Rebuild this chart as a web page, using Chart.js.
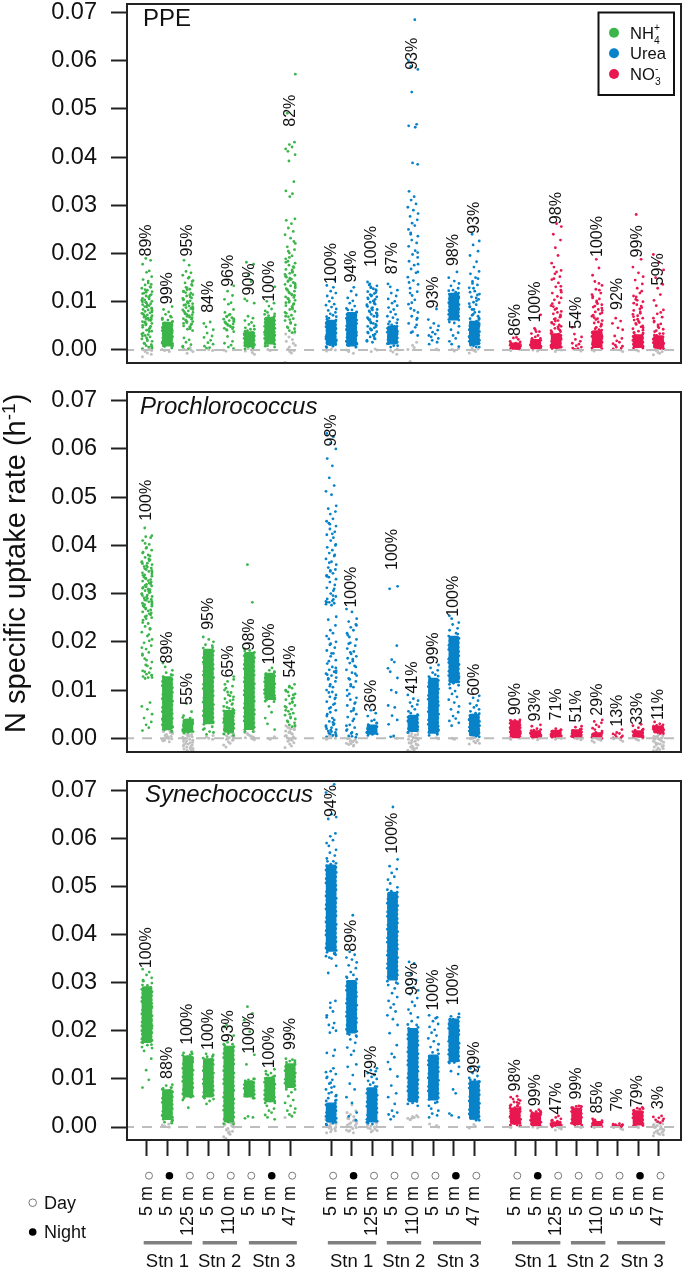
<!DOCTYPE html>
<html><head><meta charset="utf-8">
<script src="https://cdn.jsdelivr.net/npm/chart.js@4"></script>
<style>html,body{margin:0;padding:0;background:#fff;overflow:hidden}canvas{position:absolute;left:0}</style>
</head><body>
<div style="position:absolute;left:0;top:0;width:685px;height:380px"><canvas id="c1"></canvas></div>
<div style="position:absolute;left:0;top:385px;width:685px;height:380px"><canvas id="c2"></canvas></div>
<div style="position:absolute;left:0;top:770px;width:685px;height:500px"><canvas id="c3"></canvas></div>
<script>
// All rates below are in units of 1e-4 per hour.
const depths=["5 m","5 m","125 m","5 m","110 m","5 m","5 m","47 m"];
const isNight=[0,1,0,0,0,0,1,0];
const stations=["Stn 1","Stn 2","Stn 3"];
const yTicks=[0,0.01,0.02,0.03,0.04,0.05,0.06,0.07];

const ppePct=[["89%","99%","95%","84%","96%","90%","100%","82%"],["100%","94%","100%","87%","93%","93%","98%","93%"],["86%","100%","98%","54%","100%","92%","99%","59%"]];
const proPct=[["100%","89%","55%","95%","65%","98%","100%","54%"],["98%","100%","36%","100%","41%","99%","100%","60%"],["90%","93%","71%","51%","29%","13%","33%","11%"]];
const synPct=[["100%","88%","100%","100%","93%","100%","100%","99%"],["94%","89%","79%","100%","99%","100%","100%","99%"],["98%","99%","47%","99%","85%","7%","79%","3%"]];
const ppePctAt=[[194,95,194,77,131,113,100,463],[137,140,172,157,581,86,174,241],[29,57,261,44,193,83,192,134]];
const proPctAt=[[451,155,69,225,126,182,153,126],[605,271,55,349,93,153,252,88],[48,35,37,33,47,24,28,38]];
const synPctAt=[[330,100,171,160,176,152,122,160],[644,364,102,568,274,242,253,111],[74,43,26,57,28,32,41,37]];

const ppeNH4=[
[3,6,9,11,14,18,21,23,27,30,32,35,39,41,44,47,49,52,55,57,59,62,64,67,68,71,73,76,77,80,83,84,87,89,92,94,96,99,101,104,107,109,112,115,118,121,124,128,131,135,139,146,152,161,164,178,186,190],
[4,7,9,12,14,16,19,21,23,26,28,30,33,35,37,40,42,45,47,50,53,56,59,62,66,70,74,79,84,90],
[2,6,11,16,21,25,40,43,47,50,54,57,59,62,65,68,70,73,75,78,81,83,86,88,91,93,96,99,102,105,108,112,115,119,122,126,129,134,139,144,149,155,160,163,176,186],
[4,5,8,12,15,20,26,29,35,42,48,55,58],
[3,6,10,14,18,28,38,42,45,48,51,54,56,59,61,64,67,70,74,78,84,95,98,105,113,122,133],
[2,4,7,10,13,15,18,20,23,26,29,31,34,37,40,43,46,50,53,57,61,66,70,97,102,106,142,155,178,182],
[6,9,13,17,20,24,27,31,34,37,41,44,47,50,53,56,60,64,67,71,75,78,81,85,91,97,101,131],
[36,40,44,48,52,57,61,65,69,72,76,80,84,88,92,96,99,103,107,110,114,118,122,125,129,133,136,140,144,147,151,155,159,163,167,171,176,180,184,189,195,201,208,214,221,232,239,246,253,262,269,272,318,324,330,349,392,405,412,417,421,426,431,491,572]];
const ppeUrea=[
[5,8,11,14,17,21,24,27,31,34,38,41,44,47,50,53,56,59,62,66,69,72,75,78,82,85,89,93,95,101,108,112,118,122,130,134,145],
[6,9,12,15,18,22,25,28,32,35,38,42,45,48,52,55,58,62,65,68,72,76,79,83,86,91,97,102,108,114,122,130],
[16,20,23,27,31,35,38,42,46,49,53,56,60,63,67,70,74,77,81,84,88,92,95,99,102,106,110,113,117,121,125,129,133,137,141],
[6,9,13,16,20,24,27,31,34,38,41,45,49,52,56,59,63,67,70,74,79,84,88,92,97,101,106,112,118,124,131,137],
[30,38,47,55,63,70,78,86,95,104,113,121,128,136,144,151,160,168,176,184,192,198,206,215,222,228,236,243,250,258,263,270,277,283,290,296,303,311,318,329,385,388,462,465,468,535,582,588,600,685],
[12,16,20,24,27,30,33,37,41,46,50,55,63,85],
[7,12,18,24,30,36,42,49,56,63,68,72,76,80,84,88,92,96,100,104,108,112,116,120,124,128,133,138,143,150,162],
[6,9,13,17,20,24,28,32,36,41,45,50,55,60,65,70,74,79,84,89,94,99,105,110,116,122,129,135,142,150,158,163,172,183,196,205,218,226,240]];
const ppeNO3=[
[1,3,5,7,9,11,14,18,22,25,26],
[2,4,6,8,10,13,15,18,21,24,27,30,34,38,45,73],
[3,6,9,13,17,21,25,29,33,37,41,45,49,53,57,61,65,70,75,80,86,92,98,104,111,118,124,131,139,146,152,158,165,172,180,196,212,228,240,256,262],
[1,3,4,6,9,12,14,18,22,27,33,47],
[3,7,11,15,19,23,28,32,37,42,47,52,56,61,65,70,75,79,84,89,94,99,106,111,118,126,134,142,155,170,188],
[2,4,6,8,10,13,16,19,24,29,42,46,55,60,66],
[4,8,12,17,21,26,30,35,39,44,48,53,57,62,66,71,76,82,88,94,100,105,112,118,128,137,145,152,160,172,188,281],
[3,5,8,11,14,18,22,26,30,34,38,43,48,54,60,68,75,83,92,103,115,128,136,150,166,182,198]];
const ppeFill=[
[[4,8,13,19,25,29,33,38,42,46,51,54,58,61,63,66,69,72,75,79,82,86,90,93,97,100,103,106,110,113,117,120,125,130,136,143],[],[8,44,48,52,55,58,61,64,67,71,74,77,80,84,87,90,94,97,100,104,107,110,114,118,121,125,130,136,142,151],[],[41,44,47,50,53,55,58,60,63,65,69,73],[],[],[38,46,55,63,70,78,85,90,94,98,102,106,109,113,116,120,124,127,131,135,138,142,146,149,153,157,161,166,173,182,192,205,225]],
[[],[],[18,24,29,33,37,41,44,48,51,55,58,62,65,69,72,76,79,83,86,90,94,97,101,105,108,112,115,119,123,127,131,135],[],[36,52,66,82,98,118,140,162,178,202,240],[],[],[66,72,78,84,90,96,102,108,114,120,128,138,148]],
[[],[38,42],[40,44,48,52,56,60,64,68,73,78,84,90,96,108,120,132,148,162],[],[44,49,54,58,63,67,72,77,82,87,91,96,102,108,115,124,138],[],[36,41,46,50,55,60,64,69,74,79,85,91,97,103,110,122],[34,40,46,52,58,66,78]]];
const ppeGrey=[
[[-14,-9,-6,-3,-1,1,3,5],[-3,-1,1],[-7,-3,0,2,5],[-1,1],[-2,0],[-9,-5,-2,0,3],[-1,1],[-26,-6,-3,-1,2,6,10,14,18,22,27,33,35]],
[[-2,0,2],[-7,-3,0],[-3,0,2],[-9,-4,-1,2],[-24,1,5,10,16],[0,2],[-2,1,3],[-6,-3,-1,2,4]],
[[-1,1],[-2,0],[-3,0],[-2,1],[-2,0],[-3,0],[-2,0],[-10,-7,-5,-3,-1,1,3]]];
const ppeCore=[[[],[[8,58]],[],[],[],[[6,38]],[[12,68]],[]],[[[10,62]],[[8,78]],[],[[12,50]],[],[],[[62,118]],[[10,60]]],[[[1,15]],[[2,22]],[[3,34]],[],[[5,40]],[],[[5,32]],[[3,30]]]];
const ppeEdge=[
[[],[6,9,13,17,21,25,28,32,36,40,44,47,51,55,59,63,68],[],[],[],[5,9,12,16,20,24,27,31,35,39,43],[8,12,16,20,24,28,32,37,41,45,49,53,57,61,65,70,74],[]],
[[7,11,15,19,23,27,31,35,39,44,48,52,56,60,64,69],[6,10,14,18,22,26,30,34,38,42,46,50,54,58,62,66,70,74,78,83],[],[9,13,17,21,25,29,33,37,41,45,49,54],[],[],[58,62,66,70,74,78,82,86,90,94,98,102,106,110,114,118,123],[6,10,14,18,22,26,30,34,38,42,46,50,54,58,63]],
[[1,3,5,8,10,12,14,17],[2,5,8,11,14,17,20,24],[3,6,10,14,18,22,26,30,34,38],[],[4,8,12,16,20,24,28,32,36,41],[],[4,8,12,16,20,24,28,32,36],[3,7,11,15,19,23,27,31]]];

const proNH4=[
[16,22,28,34,42,50,60,66,74,124,126,128,130,133,136,140,145,152,158,165,172,178,185,192,198,205,212,220,226,232,238,245,250,254,258,262,266,270,274,277,280,283,286,288,291,294,297,300,303,306,309,313,316,319,322,326,329,332,336,339,343,346,350,353,356,360,363,366,370,375,380,386,390,396,402,410,416,418,420,436],
[14,18,24,32,40,50,62,76,90,105,118,124,128,132,136,141,148,156],
[12,15,18,22,26,30,34,38,42,47,55,72],
[8,14,20,32,48,62,80,96,110,126,140,154,168,180,188,194,200,205,210],
[6,10,14,18,22,26,30,34,38,42,46,50,54,58,62,66,70,74,78,82,86,90,95,100,108,118,128],
[14,20,30,50,70,90,115,140,160,172,178,182,186,282,360],
[18,30,42,54,66,76,80,84,92,100,110,120,128,134,138,141,146],
[24,28,32,36,40,44,48,52,56,60,64,68,72,76,80,84,88,92,96,100,104,108,112]];
const proUrea=[
[3,6,9,12,15,18,22,26,30,35,42,50,58,64,70,76,82,86,90,95,100,106,112,118,122,126,130,134,138,142,148,155,162,170,176,182,188,194,200,206,212,218,224,234,246,252,276,278,280,282,285,289,294,300,306,312,318,324,330,334,338,342,346,350,354,360,366,372,378,384,390,396,402,410,416,422,428,434,440,446,450,455,465,470,476,482,505,512,524,540,565,580,600,612,625,632],
[2,5,8,12,16,22,28,36,44,50,56,62,68,74,80,84,92,100,106,112,118,124,130,136,142,150,156,160,166,170,175,180,186,192,198,205,210,218,224,230,236,242,248,262,268],
[8,12,16,20,24,28,32,36,38,46,52,58],
[3,5,29,38,47,64,68,95,100,125,138,145,158,163,192,310,315],
[18,22,28,34,40,44,48,52,56,60,66,70,74,78,82,90],
[6,10,14,18,22,128,132,136,141,146,152],
[32,26,36,41,46,54,60,66,74,80,86,92,98,104,110,114,218,224,228,236,240,248,254],
[4,8,14,20,26,32,38,44,48,52,56,60,64,68,72,78,84,88]];
const proNO3=[
[1,3,5,8,11,14,18,22,26,30,34,36,38,37,33],
[1,3,5,8,11,14,17,20,25,28],
[3,5,8,10,13,15,18,20],
[1,3,5,7,10,13,16,19,23,25],
[0,2,4,6,9,12,15,18,21,24,28,32,35,38],
[1,2,3,5,7,9,10,12,18],
[2,4,6,9,12,15,17,19,22,26,29],
[10,12,14,16,18,20,22,24,27,30,34]];
const proFill=[
[[126,131,138,150,162,175,188,202,215,228,240,248,252,256,260,264,268,272,275,278,281,284,287,290,293,296,299,302,305,308,311,314,317,320,324,327,331,334,338,341,345,348,352,355,358,362,365,368,372,378,384,394,404],[],[],[],[64,72,80,88,96,104,112,122],[],[],[26,34,42,50,58,66,74,82,90,98,106]],
[[5,8,11,14,17,20,24,28,33,38,46,54,62,72,84,96,108,124,132,136,140,146,160,176,196,282,284,288,296,310,336,348,364,380,400,424,444],[4,10,18,26,40,58,72,88,108,122,134,148,164,178,196,214,234],[],[],[],[],[120,124,128,134,140,146,152,158,164,170,176,182,188,194,200,206],[]],
[[],[],[],[],[],[],[],[]]];
const proGrey=[
[[],[-7,-4,-2,0,2,4,6,8,10,12,14,16,18,-5,-1,3,7,11,15],[-28,-26,-24,-22,-20,-18,-16,-14,-12,-10,-8,-6,-4,-2,0,2,4,6,8,10,-25,-21,-17,-13,-9,-5,-1,3,7],[-2,0,3,6],[-18,-14,-10,-7,-4,-2,0,2,5,8,12,16,20,-3,1,4,10],[-3,-1,1,4,8,12,2,6,10,14],[-2,0,3],[-19,-16,-12,-9,-6,-3,0,3,6,9,12,15,18,20,22,24,26,27,-4,1,5,10,14,19,23]],
[[-2,0,3,6],[-16,-13,-10,-7,-5,-3,0,-11,-8,-4,-1,-14,-6],[],[0,3],[-28,-26,-24,-22,-20,-18,-16,-14,-12,-9,-6,-4,-2,0,2,5,8,11,14,16,18,-25,-21,-17,-13,-10,-7,-3,1,4,7,10,13],[-1,1],[-2,0],[-12,-9,-6,-3,0,2,-10,-5,-1]],
[[-2,0],[-3,0],[-2,0],[-3,-1],[-8,-5,-2,0,-4],[-6,-3,-1],[-4,-2,0],[-26,-23,-20,-17,-14,-11,-8,-5,-2,0,2,4,6,8,-24,-21,-18,-15,-12,-9,-6,-3,-1,1,3,5]]];
const proCore=[[[],[[18,128]],[[12,40]],[[30,185]],[[12,58]],[[18,178]],[[80,135]],[]],[[],[],[[8,28]],[],[[14,48]],[[10,125]],[[115,212]],[[5,50]]],[[[1,36]],[[1,16]],[[2,17]],[[1,18]],[[2,12]],[],[[2,16]],[[11,26]]]];
const proEdge=[
[[],[15,19,23,28,33,37,41,46,51,55,59,64,69,73,77,82,87,91,95,100,105,109,113,118,122,127,131],[11,14,18,22,26,30,34,38,43],[12,18,24,29,34,38,43,47,52,57,61,65,70,75,80,84,88,93,98,103,107,112,117,121,126,131,135,139,144,149,153,158,163,167,172,176,181,187,192],[9,13,17,21,25,29,33,37,41,45,49,53,57,61],[14,18,23,27,32,36,41,45,50,54,59,63,68,72,77,81,86,90,95,99,104,108,113,117,122,126,131,135,140,144,149,153,158,162,167,171,176,181],[77,81,85,89,93,97,101,105,109,113,117,121,125,129,133,137],[]],
[[],[],[6,9,12,16,20,24,28,31],[],[12,16,20,24,28,32,36,40,44,49],[8,12,16,20,25,29,33,38,42,46,50,55,59,63,68,72,76,81,85,89,94,98,102,107,111,115,120,125,129],[112,117,121,126,130,135,139,144,148,153,157,162,166,171,175,180,184,189,193,198,202,207,212,216],[3,7,11,15,19,23,27,31,35,39,43,47,51]],
[[1,4,7,10,13,16,19,22,25,28,31,34,37],[1,4,7,10,13,16,18],[2,5,8,11,14,17],[1,4,7,10,13,16,19],[2,5,8,11],[],[2,5,8,11,14,17],[10,13,16,19,22,25,28]]];

const synNH4=[
[82,98,118,142,158,164,170,176,182,186,190,305,310,316,322,328,180,178,250,240,260,230,270,220,284,210,294,200],
[8,10,14,18,24,30,38,46,54,62,70,76,80,82,86,88],
[40,56,62,66,70,76,140,146,150,154,156],
[48,54,60,66,72,78,84,142,146,150,152],
[6,10,14,170,172,176,190,212,208],
[18,20,22,60,64,68,94,98,100,130,150,198,222,236,250],
[16,20,25,30,34,38,44,50,54,58,104,108,112,116,120],
[22,26,30,34,38,44,50,56,64,72,78,134,137,140,142]];
const synUrea=[
[4,8,12,55,60,66,72,78,84,90,98,104,110,116,148,154,160,196,200,212,228,240,258,262,320,335,350,355,360,368,372,378,540,546,552,558,564,570,576,584,590,596,604,610,640,644,650,695,712],
[14,22,30,50,62,78,90,108,125,130,150,158,165,175,182,188,192,310,316,322,330,336,342,348,352,358,364,440],
[6,10,84,88,92,96,100,104,108,112,116,118,122],
[16,22,26,30,34,48,62,70,86,105,120,135,145,152,170,195,212,224,232,240,248,255,262,270,278,288,295,300,490,498,506,514,520,528,536,542,556,665],
[44,50,56,205,212,220,228,236,244,252,260,268,276,284,290,296,305,318,340,343],
[20,24,28,34,38,44,50,155,160,166,172,178,184,190,196,202,208,214,220,226,232,228],
[20,24,28,70,78,110,116,125,134,135,140,146,152,158,164,170,176,182,188,194,200,206,212,218,224,228,230,235],
[14,18,22,90,94,98,102,106,112,118,122,125]];
const synNO3=[
[1,4,7,10,13,16,19,22,25,28,31,34,37,40,43,46,49,52,55,58,62,64],
[2,5,30,32,34,36],
[2,4,6,9,12,14,17,20,23],
[4,6,40,42,43,44],
[1,3,5,7,9,11,13,15,17],
[1,2,3,4,5,6,7],
[3,5,34,37,39,41],
[9,11,13,15,17,19,21,23]];
const synFill=[[[],[],[],[],[],[],[],[]],[[56,64,70,82,92,102,114,122,206,216,232,248,352,362,374,380,386,392],[],[],[],[],[],[],[]],[[3,9,15,21,27,33,39,45,51,57],[],[],[],[],[],[],[]]];
const synGrey=[
[[],[0,2,4,6],[],[],[-24,-20,-15,-12,-9,-6,-3,0,2,5,8,12,16,20,-10,-4,1,4,10],[],[],[20,24]],
[[-12,-8,-5,-2,0,3,6,9,12,16,20,-10,-3,1,5,10,14],[-12,-9,-6,-3,0,3,6,9,12,15,18,22,26,30,34,46,-7,-1,4,8,13,17],[-10,-7,-4,-2,0,2,5,8,-8,-3,1,4],[],[15,18,20,22,24,16,19,21],[0,3,6],[],[-2,1,5]],
[[-1,1],[-2,0],[-6,-4,-2,0],[-1,1],[-1,1],[-5,-3,-1],[-1,1],[-18,-15,-13,-11,-9,-7,-5,-3,-1,1,3,5,7,9,11,-16,-12,-8,-4,0,4,8]]];
const synCore=[[[[175,292]],[[15,78]],[[62,148]],[[62,142]],[[10,168]],[[62,96]],[[52,104]],[[82,132]]],[[[10,50],[365,545]],[[195,305]],[[10,82]],[[305,488]],[[52,205]],[[56,150]],[[135,225]],[[16,96]]],[[[6,40]],[[2,30]],[[1,10]],[[5,40]],[[1,12]],[[1,4]],[[4,34]],[]]];
const synEdge=[
[[166,171,175,180,183,188,193,196,201,205,210,214,218,223,226,231,235,240,243,248,252,257,261,264,269,273,278,281,286,290,295,299,303],
[12,16,20,24,29,33,38,42,47,51,55,60,64,69,73,78,82],
[60,64,69,73,78,82,86,91,95,100,104,109,113,118,122,126,131,135,140,144,149,152],
[58,63,67,72,76,81,85,90,94,99,103,108,112,117,121,125,130,134,139,143,147],
[7,12,17,21,26,30,35,39,44,49,53,58,62,67,71,76,81,85,90,94,99,103,108,112,117,122,126,131,135,140,144,149,153,158,162,167,172],
[60,64,68,72,76,80,84,88,92,96,100],
[50,54,58,62,67,71,76,80,85,89,93,97,101,106,110],
[78,82,86,91,95,99,104,108,112,117,121,125,130,134,138]],
[[6,10,14,18,22,26,30,34,38,42,46,50,54,358,363,367,372,376,381,385,390,394,399,403,408,412,417,421,426,430,435,439,444,448,453,457,462,466,471,475,480,484,489,493,498,502,507,511,516,520,525,529,534,538,543,548,552],
[190,194,199,203,208,212,217,221,226,230,235,239,244,248,253,257,262,266,271,275,280,284,289,293,298,302,307,312],
[8,12,16,21,25,30,34,39,43,48,52,57,61,66,70,75,79,84],
[298,303,307,312,316,321,325,330,334,339,343,348,352,357,361,366,370,375,379,384,388,393,397,402,406,411,415,420,424,429,433,438,442,447,451,456,460,465,469,474,478,483,488,493],
[48,53,57,62,66,71,75,80,84,89,93,98,102,107,111,116,120,125,129,134,138,143,147,152,156,161,165,170,174,179,183,188,192,197,202,207,213],
[52,57,61,66,70,75,79,84,88,93,97,102,106,111,115,120,124,129,133,138,142,147,152],
[133,138,142,147,151,156,160,165,169,174,178,183,187,192,196,201,205,210,214,219,224,228],
[14,18,22,27,31,36,40,45,49,54,58,63,67,72,76,81,85,90,94,98]],
[[4,8,12,16,20,24,28,32,36,40,44],[2,6,10,14,18,22,26,30,33],[1,4,7,10,13],[4,8,12,16,20,24,28,32,36,40,43],[1,4,7,10,13],[1,3,5],[3,7,11,15,19,23,27,31,35,38],[]]];

const jitter=[-0.22,0.09,-0.04,0.21,-0.14,0.25,0.02,-0.25,0.15,-0.09,0.06,-0.19,0.23,-0.02,0.11,-0.21,0.18,-0.06,0.24,-0.11];
const edgeJitter=[-0.24,0.22,-0.2,0.25,-0.25,0.19,-0.22,0.24,-0.18,0.23,-0.25,0.21];
const rateUnit=1e-4;
const groupStart=[0,9,18];
const colors=["rgb(60,181,74)","rgb(8,130,200)","rgb(232,24,80)"];
const greyColor="#c0c0c0";
const stnSpans=[[-0.16,2.2],[2.72,4.4],[4.98,7.32]];
const stnCenters=[1,3.55,6.2];
const panelCfg={};

function buildDatasets(vals,fill,edge,grey,core){
  const ds=[{data:[{x:-2,y:0},{x:28,y:0}],showLine:true,borderColor:"#bdbdbd",borderWidth:2,borderDash:[10,8],pointRadius:0}];
  vals.forEach((strips,n)=>{
    const pts=[];
    strips.forEach((arr,s)=>arr.forEach((v,i)=>pts.push({x:groupStart[n]+s+jitter[(i+s*3)%jitter.length],y:v*rateUnit})));
    fill[n].forEach((arr,s)=>arr.forEach((v,i)=>pts.push({x:groupStart[n]+s+jitter[(i*7+s+5)%jitter.length],y:v*rateUnit})));
    edge[n].forEach((arr,s)=>arr.forEach((v,i)=>pts.push({x:groupStart[n]+s+edgeJitter[(i+s)%edgeJitter.length],y:v*rateUnit})));
    ds.push({data:pts,backgroundColor:colors[n],pointRadius:1.4,pointBorderWidth:0});
  });
  vals.forEach((strips,n)=>{
    const bars=[];
    core[n].forEach((spans,s)=>spans.forEach(p=>bars.push({x:groupStart[n]+s,y:[p[0]*rateUnit,p[1]*rateUnit]})));
    ds.push({type:"bar",data:bars,backgroundColor:colors[n],barThickness:10,grouped:false,borderRadius:2,borderSkipped:false});
  });
  const gp=[];
  grey.forEach((strips,n)=>strips.forEach((arr,s)=>arr.forEach((v,i)=>gp.push({x:groupStart[n]+s+jitter[(i*3+s)%jitter.length],y:v*rateUnit}))));
  ds.push({data:gp,backgroundColor:greyColor,pointRadius:1.5,pointBorderWidth:0});
  return ds;
}
const frame={id:"frame",afterDatasetsDraw(ch){
  const c=ch.ctx,A=ch.chartArea;
  c.save();
  c.strokeStyle="#222";c.lineWidth=2;c.strokeRect(A.left,A.top,A.right-A.left,A.bottom-A.top);
  const p=panelCfg[ch.canvas.id];
  c.fillStyle="#111";c.font="16px 'Liberation Sans'";c.textAlign="left";c.textBaseline="middle";
  p.pct.forEach((g,n)=>g.forEach((t,s)=>{
    c.save();
    c.translate(ch.scales.x.getPixelForValue(groupStart[n]+s),ch.scales.y.getPixelForValue(p.at[n][s]*rateUnit));
    c.rotate(-Math.PI/2);c.fillText(t,0,0);c.restore();
  }));
  c.font=(p.italic?"italic ":"")+"24px 'Liberation Sans'";c.textBaseline="alphabetic";c.fillStyle="#111";
  c.fillText(p.name,p.nx,p.ny);
  if(p.extra)p.extra(c,ch);
  c.restore();
}};
function script(c,parts,x,y,size){
  parts.forEach(t=>{c.font=(size*(t[2]||1))+"px 'Liberation Sans'";c.fillText(t[0],x,y+(t[1]||0));if(!t[3])x+=c.measureText(t[0]).width;});
}
function legendBox(c){
  c.strokeStyle="#111";c.lineWidth=2;c.strokeRect(598.5,12.5,75.5,82.5);
  const ys=[32.7,53.3,74];
  const lab=[[["NH",0],["4",5,.62,1],["+",-8,.62]],[["Urea",0]],[["NO",0],["3",5,.62,1],["-",-8,.62]]];
  ys.forEach((y,i)=>{
    c.fillStyle=colors[i];c.beginPath();c.arc(614,y,5,0,7);c.fill();
    c.fillStyle="#111";c.textAlign="left";c.textBaseline="alphabetic";
    script(c,lab[i],630,y+6,16.6);
  });
}
function yTitle(c){
  c.save();c.translate(25,733-385);c.rotate(-Math.PI/2);c.fillStyle="#111";c.textAlign="left";c.textBaseline="alphabetic";
  script(c,[["N specific uptake rate (h",0],["-1",-10,.66],[")",0]],0,0,29);
  c.restore();
}
function bottomAxis(c,ch){
  const X=ch.scales.x,top=770;
  groupStart.forEach(g=>{
    depths.forEach((d,s)=>{
      const px=X.getPixelForValue(g+s)+2;
      c.beginPath();
      if(isNight[s]){c.arc(px,1175.7-top,3.8,0,7);c.fillStyle="#000";c.fill();}
      else{c.arc(px,1175.7-top,3.5,0,7);c.strokeStyle="#777";c.lineWidth=1;c.stroke();}
    });
    stnSpans.forEach((sp,i)=>{
      c.fillStyle="#808080";
      c.fillRect(X.getPixelForValue(g+sp[0]),1241-top,(sp[1]-sp[0])*20.5,3.5);
      c.fillStyle="#111";c.font="18.5px 'Liberation Sans'";c.textAlign="center";c.textBaseline="alphabetic";
      c.fillText(stations[i],X.getPixelForValue(g+stnCenters[i]),1267-top);
    });
  });
  c.textAlign="left";c.textBaseline="alphabetic";c.fillStyle="#111";c.font="18px 'Liberation Sans'";
  c.fillText("Day",44,1209-top);c.fillText("Night",44,1238-top);
  c.beginPath();c.arc(32.7,1202.7-top,3.8,0,7);c.strokeStyle="#777";c.lineWidth=1;c.stroke();
  c.beginPath();c.arc(32.7,1232-top,3.8,0,7);c.fillStyle="#000";c.fill();
}
const zeroPad=s=>{s.paddingLeft=s.paddingRight=s.paddingTop=s.paddingBottom=0;};
function panel(id,cfg){
  panelCfg[id]=cfg;
  const xTicks=[];groupStart.forEach(g=>depths.forEach((d,s)=>xTicks.push(g+s)));
  new Chart(document.getElementById(id),{
    type:"scatter",
    data:{datasets:buildDatasets(cfg.vals,cfg.fill,cfg.edge,cfg.grey,cfg.core)},
    plugins:[frame],
    options:{
      responsive:true,maintainAspectRatio:false,animation:false,events:[],
      layout:{padding:{left:0,right:3,top:cfg.padTop,bottom:cfg.padBottom}},
      plugins:{legend:{display:false},tooltip:{enabled:false}},
      scales:{
        x:{type:"linear",offset:false,min:-0.976,max:26.1,display:cfg.showX,
          grid:{offset:false,drawOnChartArea:false,tickLength:16,tickWidth:2,tickColor:"#222"},
          border:{display:false},
          afterBuildTicks:s=>{s.ticks=xTicks.map(v=>({value:v}));},
          afterFit:s=>{if(cfg.showX)s.height=130;zeroPad(s);},
          ticks:{autoSkip:false,minRotation:90,maxRotation:90,padding:30,color:"#111",
            font:{family:"Liberation Sans",size:18},
            callback:v=>depths[((v%9)+9)%9]}},
        y:{type:"linear",min:cfg.ymin,max:cfg.ymax,
          grid:{drawOnChartArea:false,tickLength:16,tickWidth:2,tickColor:"#222"},
          border:{display:false},
          afterBuildTicks:s=>{s.ticks=yTicks.map(v=>({value:v}));},
          afterFit:s=>{s.width=127;zeroPad(s);},
          ticks:{autoSkip:false,padding:14,color:"#111",font:{family:"Liberation Sans",size:23.5},callback:v=>v.toFixed(2)}}
      }
    }
  });
}
panel("c1",{vals:[ppeNH4,ppeUrea,ppeNO3],fill:ppeFill,edge:ppeEdge,grey:ppeGrey,core:ppeCore,pct:ppePct,at:ppePctAt,name:"PPE",italic:false,nx:143,ny:26,
  padTop:4,padBottom:17,showX:false,ymin:-0.0027,ymax:0.07176,extra:legendBox});
panel("c2",{vals:[proNH4,proUrea,proNO3],fill:proFill,edge:proEdge,grey:proGrey,core:proCore,pct:proPct,at:proPctAt,name:"Prochlorococcus",italic:true,nx:140,ny:29,
  padTop:7,padBottom:13,showX:false,ymin:-0.00284,ymax:0.0718,extra:yTitle});
panel("c3",{vals:[synNH4,synUrea,synNO3],fill:synFill,edge:synEdge,grey:synGrey,core:synCore,pct:synPct,at:synPctAt,name:"Synechococcus",italic:true,nx:145,ny:32,
  padTop:11,padBottom:0,showX:true,ymin:-0.0027,ymax:0.0719,extra:bottomAxis});
</script>
</body></html>
